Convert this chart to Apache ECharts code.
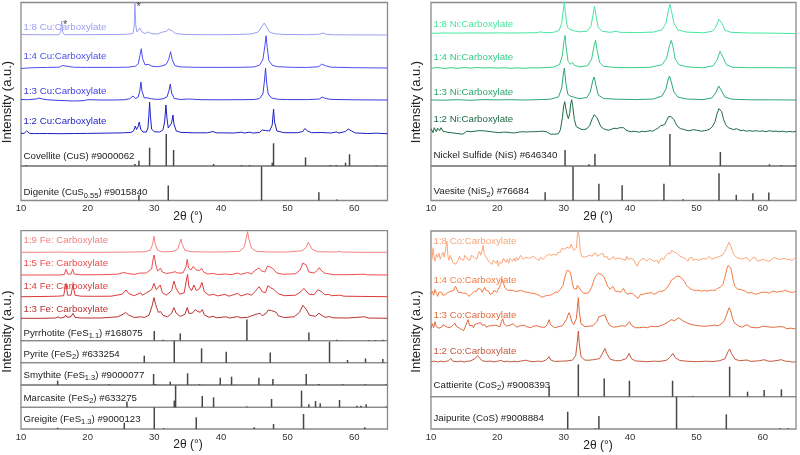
<!DOCTYPE html>
<html><head><meta charset="utf-8">
<script src="https://cdn.jsdelivr.net/npm/echarts@6/dist/echarts.min.js"></script>
<style>html,body{margin:0;padding:0;background:#fff}#c{width:800px;height:455px}</style>
</head><body><div id="c"></div>
<script>
// ---------- Axis ----------
const X_MIN = 10, X_MAX = 65, X_STEP = 10;
const xTitle = '2θ (°)';
const yTitle = 'Intensity (a.u.)';

// ---------- Cu panel (intensities above each pattern's baseline) ----------
const cuLabels = ['1:8 Cu:Carboxylate','1:4 Cu:Carboxylate','1:3 Cu:Carboxylate','1:2 Cu:Carboxylate'];
const cu18 = [[10,0.5],[12,0.3],[14,0.2],[15.7,0.3],[15.95,3],[16.1,14],[16.25,3],[16.5,0.3],[18,0.3],[21,0.4],[24,0.5],[26,0.8],[26.8,1.5],[26.98,8],[27.1,32.5],[27.22,10],[27.4,3],[27.65,5],[27.85,7],[28.1,3.5],[28.6,1.5],[29.15,3],[29.5,1.5],[30.5,1],[31.2,3],[31.5,5],[31.8,3.5],[32.15,6],[32.4,8],[32.7,4],[33.2,1.5],[34.5,0.5],[38,0.3],[42,0.4],[44.5,1],[45.6,3],[46.1,8],[46.5,12],[46.85,8],[47.3,3],[48,1.3],[49.5,0.5],[53,0.3],[54.8,0.8],[55.3,2],[55.8,0.7],[57,0.2],[65,0]];
const cu14 = [[10,-0.8],[11,-0.3],[12,0],[14,0.3],[15.8,0.5],[16.2,2.2],[16.5,0.8],[18,0.4],[20,0.3],[22,0.3],[24,0.3],[26,0.5],[27.2,1.5],[27.6,4],[27.85,12],[28.05,19],[28.25,9],[28.6,3],[28.9,2.5],[29.2,3.2],[29.6,1.5],[30.5,1],[31.3,2],[31.8,3.5],[32.15,8],[32.45,16],[32.7,8],[33.1,2],[34,0.8],[36,0.4],[40,0.3],[43,0.4],[45,0.8],[45.8,2.5],[46.3,8],[46.6,22],[46.78,32],[46.95,20],[47.2,7],[47.7,2.5],[48.5,1],[51,0.3],[53,0.3],[54.7,1],[55.1,3.5],[55.4,5],[55.7,2],[56.5,0.5],[60,0],[65,-0.3]];
const cu13 = [[10,0.5],[11,0.3],[12.3,1],[12.7,2],[13.2,1],[14,0.2],[16,-0.5],[18,-1],[19.5,-0.6],[20,0.3],[22,0],[24,0],[25.5,0.3],[26.3,1.2],[26.8,4],[27.2,1.5],[27.6,3],[27.85,10],[28.0,18],[28.15,9],[28.5,2],[28.9,2.2],[29.2,3.2],[29.6,1.2],[30.5,0.6],[31.3,1.2],[31.6,2],[31.9,3],[32.2,9],[32.4,16],[32.6,7],[33,1.5],[34,0.5],[35.1,1],[35.4,2],[35.7,0.8],[37,0.3],[40,0.2],[43,0.3],[45,0.5],[45.8,1.5],[46.3,6],[46.55,20],[46.7,32],[46.85,18],[47.1,6],[47.6,2],[48.5,0.8],[50,0.4],[53,0.4],[54.8,1],[55.2,3],[55.4,3.5],[55.7,1.5],[56.5,0.6],[60,0.2],[65,0]];
const cu12 = [[10,0.5],[10.5,0.8],[10.7,2],[10.85,3],[11.0,1.5],[11.3,0.6],[12,0.4],[14,0.5],[16,0.3],[18,0.5],[20,0.6],[22,0.8],[24,1.0],[25.5,1.2],[26.5,1.6],[26.9,3],[27.15,8],[27.35,4.5],[27.55,7],[27.75,12],[27.95,5],[28.3,2],[28.8,2],[29.05,6],[29.2,20],[29.3,32],[29.42,18],[29.6,5],[30,2.2],[30.8,2],[31.3,4],[31.55,12],[31.75,29],[31.9,16],[32.1,6],[32.35,5],[32.6,11],[32.8,19],[32.95,10],[33.3,3],[34,1.6],[36,1.2],[38,1.2],[38.8,2.5],[39.3,1.2],[42,1.0],[43.1,1.8],[43.5,1],[44.3,1.8],[44.8,1.0],[45.8,1.5],[46.2,4],[46.4,6],[46.7,3.5],[47.3,3],[47.7,9],[47.9,25],[48.05,12],[48.4,3],[49.5,1.3],[51.5,1.3],[52.3,2.5],[52.6,5.5],[52.75,6],[53.0,3],[53.6,1.3],[55,1.5],[56.5,1],[57.3,2],[57.7,1],[58.7,2.5],[59.1,5],[59.3,7],[59.6,3],[60.2,1],[62,0.5],[63.3,0.8],[65,0.3]];
const cuStarPeaks = [16.1, 27.1];
const covellite = [[10.8,1],[27.1,2],[27.7,5.3],[29.3,18.3],[31.8,32],[32.9,16],[38.9,2],[43.1,1],[44.3,1],[47.7,3.3],[47.9,22.7],[52.7,8.7],[56.4,1],[57.3,1],[58.7,3.3],[59.3,11.7],[63.3,0.8]];
const digenite = [[27.7,5.7],[32.1,15],[46.1,34],[54.7,8.3],[57.4,1]];

// ---------- Ni panel ----------
const niLabels = ['1:8 Ni:Carboxylate','1:4 Ni:Carboxylate','1:3 Ni:Carboxylate','1:2 Ni:Carboxylate'];
const ni18 = [[10,0],[12,0.3],[14,0.2],[16,0.4],[18,0.3],[20,0.4],[22,0.3],[24,0.4],[26,0.6],[26.5,1.5],[27,0.6],[28.5,1],[29.3,3],[29.7,10],[29.95,24],[30.1,31],[30.25,20],[30.55,6],[30.9,4],[31.2,5],[31.5,2.5],[32.3,1.5],[33.5,2],[34.1,7],[34.45,20],[34.65,27],[34.85,18],[35.2,6],[35.8,2],[37,1],[37.9,2],[38.5,1],[41,0.7],[43.5,1.2],[44.8,3.5],[45.4,10],[45.8,24],[46.0,29],[46.25,22],[46.6,10],[47.2,3.5],[48.5,1.2],[51,0.5],[52.4,2],[52.9,6],[53.4,14],[53.6,15],[53.85,10],[54.3,3],[55.2,1],[58,0.3],[61,0.2],[65,-0.3]];
const ni14 = [[10,0],[11,0.8],[12,-0.2],[13,0.6],[14,0],[15,0.7],[16,0.2],[17,0.8],[18,0.3],[19,0.6],[20,0.2],[21,0.5],[22,0],[23,0.4],[24,0],[25,0.5],[26,0.4],[27,0.6],[28.5,1.2],[29.4,4],[29.8,13],[30.05,28],[30.2,33],[30.35,22],[30.65,7],[31.0,4],[31.3,6],[31.6,3],[32.4,1.5],[33.6,2.5],[34.2,9],[34.55,22],[34.8,28],[35.0,19],[35.4,6],[36,2],[37.5,1],[40,0.6],[43,1],[44.8,3.5],[45.5,10],[45.95,23],[46.2,28],[46.45,22],[46.8,9],[47.4,3.5],[48.5,1.5],[51,0.5],[52.5,2.5],[53.1,8],[53.55,17],[53.75,18],[54.0,11],[54.5,3.5],[55.5,1],[58,0.6],[61,0.6],[65,0.5]];
const ni13 = [[10,0],[12,-0.2],[14,0.3],[16,-0.3],[18,0.4],[20,0.1],[22,0.3],[24,0],[26,0.3],[28,0.8],[29.2,3],[29.7,12],[29.95,27],[30.1,32],[30.3,18],[30.6,6],[30.95,4],[31.2,6],[31.45,3],[32.3,1.3],[33.5,2.5],[34.0,8],[34.4,20],[34.6,23],[34.85,15],[35.2,5],[36,1.5],[38,0.8],[41,0.4],[43.5,1],[44.8,4],[45.4,11],[45.75,21],[45.95,24],[46.2,18],[46.6,8],[47.2,3],[48.5,1],[51,0.4],[52.3,2],[52.9,7],[53.35,14],[53.55,15],[53.8,9],[54.3,3],[55.3,0.8],[58,0.2],[61,0.2],[65,0]];
const ni12 = [[10,3],[10.3,-1],[10.5,4],[10.8,0],[11.0,3.5],[11.3,1],[11.5,4],[11.8,0.5],[12.1,2.5],[12.4,-0.5],[12.7,1.5],[13.0,-1],[13.3,0.5],[13.6,-1.5],[13.9,0],[14.2,-2],[14.5,-0.5],[14.8,-2.5],[15.1,-0.5],[15.4,0.5],[15.7,1.5],[16.0,0],[16.3,2],[16.6,0.5],[16.9,2.5],[17.2,1],[17.5,3],[17.8,1],[18.1,2],[18.4,0.5],[18.7,1.5],[19.0,0],[19.3,1],[19.6,-0.5],[19.9,0.5],[20.2,-1],[20.5,0.5],[20.8,-0.5],[21.1,0.8],[21.4,-0.5],[21.7,0.5],[22.0,-1],[22.3,0],[22.6,-1.2],[22.9,0.3],[23.2,-0.5],[23.5,0.8],[23.8,0],[24.1,1],[24.4,-0.3],[24.7,0.8],[25.0,0],[25.3,1.2],[25.6,0],[25.9,1],[26.2,0.2],[26.5,1.5],[26.8,0.5],[27.1,2.5],[27.4,0],[27.7,-1.5],[28.0,-2.5],[28.3,-1],[28.6,-2.5],[28.9,-1],[29.2,-2],[29.5,2],[29.8,14],[30.0,26],[30.15,30],[30.3,24],[30.5,17],[30.7,13],[30.9,18],[31.05,28],[31.2,32],[31.35,26],[31.6,12],[31.9,5],[32.2,3],[32.6,2.5],[33.0,2],[33.5,3],[33.9,6],[34.3,13],[34.6,17],[34.8,15],[35.0,14],[35.2,12],[35.6,5],[36.0,3],[36.4,2],[36.8,1.5],[37.2,2.5],[37.6,3.5],[38.0,3],[38.4,4],[38.7,5.5],[39.0,4],[39.4,1.5],[39.8,0.5],[40.2,0],[40.6,0.5],[41.0,0],[41.4,-0.5],[41.8,0.5],[42.2,0],[42.6,0.5],[43.0,1],[43.4,0.5],[43.8,2],[44.2,3.5],[44.6,6],[44.9,8],[45.2,7],[45.5,11],[45.8,15],[46.0,17],[46.2,15],[46.4,16],[46.6,12],[46.9,8],[47.2,5],[47.6,3],[48.0,2.5],[48.4,1.5],[48.8,1],[49.2,1.5],[49.6,2],[50.0,1.5],[50.4,1],[50.8,0.5],[51.2,1],[51.6,1.5],[52.0,2.5],[52.4,5],[52.8,10],[53.1,18],[53.4,23],[53.6,24],[53.8,20],[54.1,12],[54.4,7],[54.8,4],[55.2,3],[55.6,2],[56.0,3],[56.3,2],[56.7,1],[57.1,1.5],[57.5,0.5],[58,1],[58.5,0.5],[59,1],[59.5,0.3],[60,0.8],[60.5,0],[61,1],[61.5,0.3],[62,0.6],[62.5,0],[63,0.5],[63.5,-0.3],[64,0.3],[64.5,-0.2],[65,0.2]];
const nickelSulfide = [[30.2,16],[33.8,1.7],[34.7,12],[46.0,32],[53.6,14],[61.0,1.7],[62.8,1],[64.8,0.7]];
const vaesite = [[27.2,8.3],[31.4,34],[35.3,16.7],[38.8,15.3],[45.1,16.7],[48.0,1.3],[53.4,27.3],[56.0,5.7],[58.5,7.3],[60.9,8]];

// ---------- Fe panel ----------
const feLabels = ['1:9 Fe: Carboxylate','1:5 Fe: Carboxylate','1:4 Fe: Carboxylate','1:3 Fe: Carboxylate'];
const fe19 = [[10,0],[13,0],[15.2,0.2],[15.5,1.5],[15.8,0.2],[18,0],[22,0],[26,0.2],[28.5,0.5],[29.4,2],[29.75,8],[29.95,16],[30.15,8],[30.5,2],[31.1,0.6],[31.3,1.2],[31.6,0.5],[32.8,0.8],[33.5,3],[33.8,9],[34.0,13.3],[34.2,8],[34.6,2],[35.5,0.6],[38,0.3],[41,0.4],[42.8,1],[43.5,5],[43.8,14],[44.0,20.7],[44.2,13],[44.6,4],[45.3,1],[47,0.3],[50,0.3],[52.2,1.5],[52.8,5],[53.1,10],[53.3,9],[53.7,3],[54.5,0.6],[57.3,0.3],[57.7,1],[58.1,0.3],[61,0],[65,0]];
const fe15 = [[10,0],[13,0],[15.2,0],[15.5,1.2],[15.8,0],[16.5,0.5],[16.75,5.7],[17.0,1],[17.5,0.8],[17.75,5.7],[18.0,0.8],[19,0.2],[22,0.3],[24.5,0.8],[25.4,2.5],[25.7,3.3],[26.0,1.5],[27,0.6],[27.9,2],[28.2,0.8],[28.8,2],[29.1,1],[29.6,6],[29.85,17],[30.0,20],[30.2,11],[30.5,4],[30.75,5],[30.95,6.7],[31.2,3],[31.8,1.5],[32.7,2.5],[33.1,3.3],[33.5,2],[34.3,2],[34.75,8],[34.95,15.7],[35.15,7],[35.5,5],[35.85,8.5],[36.0,9.3],[36.3,5],[36.8,4.5],[37.1,6.7],[37.4,3],[38,1],[38.9,1.5],[39.5,0.5],[40.7,1],[41.5,0.3],[42.5,2],[43.0,0.6],[44.0,2.5],[44.6,1],[45.0,4],[45.3,2.5],[45.7,7],[45.85,8.3],[46.1,4],[46.6,3],[47.0,9],[47.15,10.7],[47.35,8],[47.55,8],[47.8,6.5],[48.0,6],[48.4,2],[49.3,0.7],[51.2,1.2],[51.9,5],[52.3,12],[52.5,14],[52.8,10],[53.2,3],[54.0,2],[54.5,5],[54.75,7.3],[55.0,5],[55.5,2],[56.3,1],[57,0.3],[59,0.3],[61.5,0.8],[62,0.2],[65,0]];
const fe14 = [[10,0],[13,0.2],[15.5,0.5],[16.4,1],[16.75,13.3],[17.0,1.5],[17.5,1.5],[17.8,12.3],[18.1,1.5],[19,0.5],[21,0.4],[23.5,0.5],[25.2,2.5],[25.75,6.7],[26.2,3],[27,1],[27.95,4],[28.2,1.5],[28.85,4],[29.1,2],[29.6,7],[29.95,13.3],[30.3,7],[30.6,6],[30.9,11.7],[31.2,4],[31.8,1.5],[32.6,6],[32.95,15.7],[33.3,8],[33.8,2.5],[34.5,4],[34.9,20],[35.0,22.3],[35.2,10],[35.6,6],[35.95,11.7],[36.3,6],[36.8,8],[37.15,14.3],[37.5,5],[38.2,1.5],[38.9,2.3],[39.5,0.8],[40.6,2.3],[41.2,0.5],[42.5,3.3],[43.0,0.8],[44.0,3],[44.6,1.5],[45.1,5],[45.4,3],[45.75,10],[45.9,11.7],[46.2,5],[46.7,4],[47.05,11],[47.2,12.3],[47.45,9],[47.7,10],[48.0,7],[48.3,8.3],[48.6,3],[49.5,1],[51.2,1.5],[52.0,5],[52.45,8.3],[52.7,7],[53.2,2.5],[54.0,2],[54.55,7],[54.8,9],[55.1,5],[55.6,2],[56.2,2.3],[56.6,1],[57.8,1.5],[58.5,0.5],[61,0.3],[65,0]];
const fe13 = [[10,0],[13,0],[15.2,0.3],[15.55,1.5],[15.9,0.3],[16.5,1],[16.7,3.3],[16.9,1],[17.5,1.5],[17.8,5],[18.1,1],[19,0.3],[22,0.3],[24.5,1.5],[25.3,4],[25.7,6],[26.1,3.5],[27,0.8],[28.1,1.5],[28.5,0.8],[29.2,3],[29.7,13],[29.95,20.7],[30.2,14],[30.6,6],[30.95,6.7],[31.3,3],[32.0,1.5],[32.6,5],[32.95,10.7],[33.3,5],[33.9,2],[34.6,4],[34.95,10.7],[35.2,5],[35.7,5],[36.15,8.7],[36.5,7],[36.65,7.3],[36.9,6],[37.2,8.7],[37.5,3.5],[38.2,1],[38.8,2],[39.4,0.5],[40.7,1.5],[41.3,0.3],[42.5,1.7],[43.0,0.5],[44,1],[45.25,4],[45.5,2.5],[45.9,5],[46.2,2.5],[46.8,5],[47.1,8.3],[47.35,7],[47.6,7.7],[47.9,6],[48.3,6],[48.6,2.5],[49.5,0.8],[51,1.5],[51.8,6],[52.3,13],[52.5,14],[52.8,9],[53.3,3],[54.2,2],[54.7,5],[55.0,3],[55.6,1],[56.3,1.7],[56.8,0.5],[59,0.3],[61.6,1.5],[62.1,0.3],[65,0]];
const pyrrhotite = [[30.0,9.7],[31.3,1],[33.9,7.3],[43.9,21.3],[53.2,8.3],[57.4,1],[62.2,0.7],[63.2,0.7],[64.3,1]];
const pyrite = [[28.5,7],[33.0,22],[37.1,14.3],[40.8,11],[47.4,10.3],[56.3,21],[59.0,2.7],[61.7,4.3],[64.3,3.7]];
const smythite = [[15.5,4.3],[23.2,0.8],[29.9,11],[30.2,1],[32.4,3.3],[35.0,11.7],[36.8,0.8],[39.9,7.3],[41.6,8.3],[45.7,7.3],[47.8,6],[52.8,11],[54.7,1],[58.3,0.7],[61.7,0.7],[64.8,0.7]];
const marcasite = [[25.9,5.7],[33.0,6.7],[33.2,21.7],[37.2,11.3],[38.9,10],[43.9,0.8],[47.6,8.3],[52.1,16.7],[53.2,3],[54.2,6.3],[54.9,4],[57.8,7.3],[60.4,1.5],[61.0,1.5],[61.8,3],[64.8,0.8]];
const greigite = [[15.5,1.3],[25.5,6.3],[30.0,21.7],[31.4,0.8],[36.3,11.7],[45.0,1.7],[47.9,5],[52.4,15],[61.6,1.7]];

// ---------- Co panel ----------
const coLabels = ['1:8 Co:Carboxylate','1:4 Co:Carboxylate','1:3 Co:Carboxylate','1:2 Co:Carboxylate'];
const co18 = [[10.0,7],[10.15,-1],[10.3,10],[10.45,2],[10.6,-3],[10.8,4],[11.0,1],[11.2,5],[11.4,-1],[11.6,3],[11.8,6],[12.0,1],[12.2,3],[12.4,17],[12.55,2],[12.7,-2],[12.9,3],[13.1,2],[13.3,-4],[13.5,-2],[13.7,-6],[13.9,-8],[14.1,-2],[14.3,2],[14.5,-1],[14.7,1],[14.9,-2],[15.1,3],[15.3,4],[15.5,-1],[15.7,1],[15.9,-2],[16.1,3],[16.3,5],[16.5,1],[16.7,2],[16.9,-1],[17.1,4],[17.3,7],[17.5,3],[17.7,8],[17.85,13],[18.0,5],[18.2,5],[18.4,0],[18.6,-1],[18.8,-4],[19.0,-3],[19.2,-6],[19.4,-2],[19.6,-3],[19.8,-5],[20.0,-2],[20.15,-8],[20.3,-4],[20.5,-2],[20.7,-5],[20.9,0],[21.1,-1],[21.3,-4],[21.5,-1],[21.7,-5],[21.9,0],[22.1,1],[22.3,-3],[22.5,0],[22.7,-3],[22.9,1],[23.1,-2],[23.3,0],[23.5,3],[23.7,2],[23.9,-1],[24.1,-3],[24.3,1],[24.5,-1],[24.7,0],[24.9,-2],[25.1,1],[25.3,-1],[25.5,2],[25.7,2],[25.9,-1],[26.1,1],[26.3,-2],[26.5,1],[26.7,1],[26.9,-1],[27.1,0],[27.3,2],[27.5,1],[27.7,4],[27.9,2],[28.1,3],[28.3,1],[28.5,4],[28.7,5],[28.9,3],[29.1,6],[29.3,7],[29.5,6],[29.7,10],[29.9,8],[30.1,9],[30.3,8],[30.5,11],[30.7,12],[30.9,10],[31.1,14],[31.3,12],[31.5,8],[31.7,9],[31.9,10],[32.05,22],[32.2,27],[32.35,20],[32.5,7],[32.7,2],[32.9,0],[33.1,1],[33.3,-1],[33.5,2],[33.7,4],[33.9,3],[34.1,2],[34.3,2],[34.5,5],[34.7,3],[34.9,5],[35.1,2],[35.3,3],[35.5,4],[35.7,2],[35.9,5],[36.1,1],[36.3,0],[36.5,2],[36.7,-1],[36.9,-3],[37.1,-1],[37.3,1],[37.5,2],[37.7,-1],[37.9,-3],[38.1,0],[38.3,-2],[38.5,0],[38.7,-2],[38.9,-1],[39.1,1],[39.3,-2],[39.5,2],[39.7,-1],[39.9,-3],[40.1,0],[40.3,-2],[40.5,-1],[40.7,-4],[40.9,-6],[41.1,-8],[41.3,-4],[41.5,-3],[41.7,-1],[41.9,-3],[42.1,0],[42.3,-2],[42.5,-3],[42.7,-1],[42.9,0],[43.1,1],[43.3,-2],[43.5,-1],[43.7,-3],[43.9,-4],[44.1,-2],[44.3,-5],[44.5,-3],[44.7,0],[44.9,1],[45.1,-1],[45.3,2],[45.5,4],[45.7,5],[45.9,6],[46.1,5],[46.3,8],[46.5,9],[46.7,6],[46.9,7],[47.1,5],[47.3,3],[47.5,2],[47.7,0],[47.9,1],[48.1,-1],[48.3,0],[48.5,-2],[48.7,-3],[48.9,0],[49.1,-1],[49.3,1],[49.5,-2],[49.7,0],[49.9,-1],[50.1,-3],[50.3,-2],[50.5,0],[50.7,-1],[50.9,1],[51.1,0],[51.3,2],[51.5,-1],[51.7,1],[51.9,2],[52.1,0],[52.3,-1],[52.5,-2],[52.7,0],[52.9,2],[53.1,1],[53.3,3],[53.5,2],[53.7,4],[53.9,3],[54.1,5],[54.3,7],[54.5,10],[54.7,13],[54.9,16],[55.05,17],[55.2,12],[55.4,8],[55.6,4],[55.8,2],[56.0,1],[56.2,-1],[56.4,0],[56.6,-2],[56.8,-1],[57.0,1],[57.2,0],[57.4,-2],[57.6,1],[57.8,-1],[58.0,-3],[58.2,-1],[58.4,0],[58.6,-2],[58.8,1],[59.0,-1],[59.2,-3],[59.4,-1],[59.6,-2],[59.8,0],[60.0,-1],[60.2,1],[60.4,-2],[60.6,-1],[60.8,-3],[61.0,-5],[61.2,-2],[61.4,-1],[61.6,1],[61.8,-1],[62.0,0],[62.2,-2],[62.4,-1],[62.6,-3],[62.8,-1],[63.0,1],[63.2,0],[63.4,2],[63.6,-1],[63.8,1],[64.0,-1],[64.2,0],[64.4,-2],[64.6,-1],[64.8,0],[65.0,-1]];
const co14 = [[10.0,-1],[10.2,2],[10.4,-2],[10.6,4],[10.8,0],[11.0,-3],[11.2,1],[11.4,-1],[11.6,1],[11.8,-2],[12.0,0],[12.2,-1],[12.4,-1],[12.6,1],[12.8,-1],[13.0,2],[13.2,1],[13.4,3],[13.7,7],[13.9,5],[14.1,1],[14.3,0],[14.5,1],[14.7,-1],[14.9,0],[15.1,-1],[15.3,0],[15.5,-2],[15.7,-3],[15.9,-5],[16.1,-1],[16.3,0],[16.5,2],[16.7,4],[16.9,2],[17.1,5],[17.3,3],[17.5,4],[17.7,1],[17.9,3],[18.1,6],[18.3,3],[18.5,1],[18.7,2],[18.9,-1],[19.1,1],[19.3,0],[19.5,3],[19.7,4],[19.9,1],[20.1,3],[20.3,6],[20.5,9],[20.7,14],[20.9,11],[21.1,6],[21.3,7],[21.5,3],[21.7,1],[21.9,3],[22.1,5],[22.3,3],[22.5,1],[22.7,2],[22.9,0],[23.1,2],[23.3,1],[23.5,3],[23.7,5],[23.9,2],[24.1,3],[24.3,1],[24.5,0],[24.7,1],[24.9,-1],[25.1,0],[25.3,-1.5],[25.5,0],[25.7,1],[25.9,-1],[26.1,0],[26.3,-2],[26.5,-3],[26.7,-4],[26.9,-2],[27.1,-3],[27.3,-1],[27.5,-2],[27.7,0],[27.9,-2],[28.1,-3],[28.3,-1],[28.5,0],[28.7,1],[28.9,2],[29.1,1],[29.3,3],[29.5,4],[29.7,4],[29.9,8],[30.1,14],[30.3,19],[30.5,23],[30.7,24],[30.9,22],[31.1,18],[31.3,10],[31.5,5],[31.7,3],[31.9,4],[32.05,8],[32.2,10],[32.35,6],[32.6,3],[32.8,2],[33.0,0],[33.2,1],[33.4,0],[33.6,2],[33.8,1],[34.0,3],[34.2,6],[34.4,10],[34.6,14],[34.8,17],[35.0,19],[35.2,20],[35.4,21],[35.6,19],[35.8,20],[36.0,17],[36.2,14],[36.4,11],[36.6,7],[36.8,5],[37.0,4],[37.2,5],[37.4,7],[37.6,5],[37.8,2],[38.0,1],[38.2,2],[38.4,0],[38.6,1],[38.8,3],[39.0,5],[39.2,2],[39.4,0],[39.6,-1],[39.8,-2],[40.0,0],[40.2,1],[40.4,0],[40.6,-2],[40.8,-3],[41.0,-4],[41.2,-5],[41.4,-3],[41.6,-1],[41.8,-2],[42.0,-1],[42.2,-2],[42.4,0],[42.6,-1],[42.8,0],[43.0,-1],[43.2,1],[43.4,0],[43.6,-1],[43.8,1],[44.0,0],[44.2,1],[44.4,2],[44.6,1],[44.8,2],[45.0,2],[45.2,3],[45.4,4],[45.6,6],[45.8,7],[46.0,10],[46.2,13],[46.4,14],[46.6,15],[46.8,15],[47.0,17],[47.2,18],[47.4,17],[47.6,16],[47.8,15],[48.0,14],[48.2,12],[48.4,9],[48.6,7],[48.8,6],[49.0,5],[49.2,4],[49.4,5],[49.6,3],[49.8,4],[50.0,3],[50.2,2],[50.4,3],[50.6,1],[50.8,2],[51.0,2],[51.2,3],[51.4,1],[51.6,2],[51.8,2],[52.0,3],[52.2,2],[52.4,3],[52.6,4],[52.8,3],[53.0,4],[53.2,5],[53.4,4],[53.6,6],[53.8,7],[54.0,9],[54.2,14],[54.4,19],[54.6,25],[54.8,28],[55.0,29],[55.2,25],[55.4,18],[55.6,11],[55.8,7],[56.0,5],[56.2,4],[56.4,3],[56.6,4],[56.8,2],[57.0,3],[57.2,1],[57.4,2],[57.6,2],[57.8,0],[58.0,1],[58.2,1],[58.4,2],[58.6,0],[58.8,1],[59.0,-1],[59.2,1],[59.4,0],[59.6,-1],[59.8,1],[60.0,0],[60.2,1],[60.4,0],[60.6,1],[60.8,2],[61.0,0],[61.2,1],[61.4,2],[61.6,1],[61.8,2],[62.0,0],[62.2,1],[62.4,0],[62.6,2],[62.8,1],[63.0,2],[63.2,1],[63.4,3],[63.6,1],[63.8,2],[64.0,0],[64.2,1],[64.4,2],[64.6,1],[64.8,1],[65.0,2]];
const co13 = [[10,-2],[10.2,3],[10.4,-1],[10.6,5],[10.8,0],[11.0,2],[11.2,-1.5],[11.4,0],[11.6,-0.5],[11.8,2],[12.1,3.5],[12.3,0],[12.5,1.5],[12.7,-1],[12.9,-3],[13.1,0],[13.3,2],[13.6,3.5],[13.8,0.5],[14.1,1],[14.3,-1.5],[14.6,0],[14.9,-4],[15.1,-1],[15.3,1],[15.6,7],[15.8,1],[16.0,-1],[16.2,1.5],[16.4,-1],[16.6,2],[16.8,0.5],[17.1,3.5],[17.3,2],[17.5,4],[17.7,1.5],[17.9,0],[18.1,2],[18.3,-0.5],[18.6,-1.5],[18.8,1],[19.0,-0.5],[19.2,1],[19.4,0],[19.6,1.5],[19.8,-0.5],[20.0,1],[20.2,2],[20.4,0],[20.6,5],[20.8,8],[21.0,3],[21.2,4],[21.4,0.5],[21.7,-0.5],[21.9,1.5],[22.1,0],[22.4,3],[22.6,1],[22.9,-0.5],[23.2,-1],[23.5,1],[23.8,0],[24.0,1.5],[24.2,2],[24.4,0],[24.7,1],[25.0,-1],[25.2,-1.5],[25.5,0.5],[25.8,-0.5],[26.0,1],[26.3,0],[26.6,-0.5],[26.9,0.5],[27.2,-0.5],[27.5,2],[27.8,7],[28.0,2],[28.3,0],[28.6,-1],[28.9,1],[29.2,0],[29.5,1.5],[29.8,1],[30.1,3],[30.4,7],[30.6,11],[30.8,14],[31.0,11],[31.2,5],[31.5,2],[31.7,3],[31.9,8],[32.05,18],[32.2,29],[32.35,15],[32.6,3],[32.9,1],[33.2,0],[33.5,-1],[33.8,0.5],[34.1,0],[34.4,1],[34.7,3],[35.0,5],[35.3,10],[35.5,9],[35.8,11],[36.0,10],[36.2,12],[36.4,11],[36.6,5],[36.9,1.5],[37.2,0.5],[37.5,-0.5],[37.8,1],[38.1,0],[38.4,-0.5],[38.7,1],[39.0,2],[39.3,0.5],[39.6,2],[39.9,5],[40.2,1.5],[40.5,0],[40.8,-1],[41.1,0],[41.4,-1],[41.7,0.5],[42.0,-0.5],[42.3,0],[42.6,-1],[42.9,0],[43.2,0.5],[43.5,1],[43.8,0],[44.1,1],[44.4,0.5],[44.7,1.5],[45.0,2],[45.3,2],[45.6,4],[45.9,5],[46.2,7],[46.4,8],[46.7,6],[47.0,7],[47.3,9],[47.6,8],[47.9,6],[48.2,5],[48.5,4],[48.8,2],[49.1,2.5],[49.4,1],[49.7,1.5],[50.0,0],[50.3,1],[50.6,0],[50.9,0.5],[51.2,-0.5],[51.5,0.5],[51.8,0],[52.1,1],[52.4,0.5],[52.7,1.5],[53.0,2],[53.3,1],[53.6,2],[53.9,3.5],[54.2,6],[54.5,11],[54.75,16],[54.95,19],[55.15,16],[55.4,9],[55.7,4],[56.0,2],[56.3,1],[56.6,0],[56.9,-0.5],[57.2,1],[57.6,2],[57.9,0],[58.2,-0.5],[58.5,0],[58.8,-1],[59.1,0],[59.4,-1],[59.7,0],[60.0,0.5],[60.3,-0.5],[60.6,0],[60.9,-1],[61.2,-0.5],[61.5,-1.5],[61.8,-0.5],[62.1,-1],[62.4,0],[62.7,1],[63.0,0],[63.3,-1],[63.6,-2],[63.9,-1],[64.2,-1.5],[64.5,-3],[64.8,-2],[65,-2.5]];
const co12 = [[10,0],[10.5,0.5],[11,-0.3],[11.5,0.5],[12,0],[12.6,0.8],[13.0,3.3],[13.3,0.5],[14,0],[14.5,0.5],[15,-0.3],[15.5,0.5],[16,0.8],[16.6,3],[17.0,6],[17.3,4],[17.7,1],[18.3,0.3],[19,0.6],[19.5,-0.2],[20,0.5],[20.6,1.2],[21,0],[21.5,0.5],[22,-0.2],[22.5,0.5],[23,0],[23.5,0.6],[24.3,1.5],[24.8,0.5],[25.5,0],[26,0.5],[26.8,0.3],[27.4,2],[27.8,5],[28.1,1.5],[28.6,0.3],[29.5,0.5],[30.5,0.8],[31.3,1.5],[31.8,6],[32.05,20],[32.2,30.7],[32.35,18],[32.6,5],[33.2,1.5],[33.8,1.5],[34.5,2],[34.9,2.5],[35.4,3],[35.9,9],[36.2,13.3],[36.5,8],[37,2.5],[37.8,1],[38.5,1],[39.4,3],[39.85,8.3],[40.2,3],[40.8,0.8],[41.5,0.5],[42.5,0],[43.5,0.5],[44.5,0.3],[45.5,1.5],[46.1,5],[46.45,8.3],[46.8,4],[47.5,1.2],[48.5,0.5],[50,0],[51.5,0.5],[52.5,0.2],[53.5,1],[54.3,3],[54.75,10],[55.0,12.7],[55.3,8],[55.8,2.5],[56.5,1],[57.6,1.7],[58.2,0.3],[59.5,1],[60.2,2],[60.8,0.5],[61.5,0.5],[62.8,2],[63.4,0.5],[64,0.3],[64.5,-0.5],[65,0]];
const cattierite = [[27.8,10],[32.2,32.3],[36.1,18.3],[39.9,16],[46.4,16],[49.4,0.8],[55.0,30],[57.7,5],[60.2,6.7],[62.8,7.3]];
const jaipurite = [[30.6,17.3],[34.8,0.8],[35.3,13],[47.0,32.3],[54.5,14.7],[62.6,0.8],[63.8,0.8]];

// ---------- Layout (pixels) ----------
const FONT = 'Liberation Sans, Arial, sans-serif';
const grids = [
  {left:21, top:2.5, width:366.5, height:163.5},   // 0 Cu main
  {left:21, top:166, width:366.5, height:34.5},    // 1 Digenite
  {left:431, top:2.5, width:365, height:163.5},    // 2 Ni main
  {left:431, top:166, width:365, height:34.5},     // 3 Vaesite
  {left:21, top:230.7, width:366.5, height:110},   // 4 Fe main
  {left:21, top:340.7, width:366.5, height:22},    // 5 Pyrite
  {left:21, top:362.7, width:366.5, height:22.3},  // 6 Smythite
  {left:21, top:385, width:366.5, height:22.3},    // 7 Marcasite
  {left:21, top:407.3, width:366.5, height:21.7},  // 8 Greigite
  {left:431, top:231, width:365, height:165.7},    // 9 Co main
  {left:431, top:396.7, width:365, height:32.3}    // 10 Jaipurite
];
const labelledAxes = [1, 3, 8, 10];

const patterns = [
  {d:cu18, g:0, off:131,   c:'#9d9ef3', lab:cuLabels[0], ly:27},
  {d:cu14, g:0, off:98.3,  c:'#4e4ff0', lab:cuLabels[1], ly:56},
  {d:cu13, g:0, off:66,    c:'#3c3de3', lab:cuLabels[2], ly:91},
  {d:cu12, g:0, off:32,    c:'#1e1fc4', lab:cuLabels[3], ly:121},
  {d:ni18, g:2, off:132.7, c:'#47e6a0', lab:niLabels[0], ly:24},
  {d:ni14, g:2, off:97.7,  c:'#35cc88', lab:niLabels[1], ly:57.3},
  {d:ni13, g:2, off:66,    c:'#2ba672', lab:niLabels[2], ly:92.3},
  {d:ni12, g:2, off:34.3,  c:'#1d6a45', lab:niLabels[3], ly:119.3},
  {d:fe19, g:4, off:88.4,  c:'#f58080', lab:feLabels[0], ly:240.7},
  {d:fe15, g:4, off:65.7,  c:'#ee4d4d', lab:feLabels[1], ly:263.3},
  {d:fe14, g:4, off:44,    c:'#dc3b3b', lab:feLabels[2], ly:286.7},
  {d:fe13, g:4, off:22.4,  c:'#b93232', lab:feLabels[3], ly:309},
  {d:co18, g:9, off:138.4, c:'#fba677', lab:coLabels[0], ly:241.7},
  {d:co14, g:9, off:103.4, c:'#f57b40', lab:coLabels[1], ly:280},
  {d:co13, g:9, off:70,    c:'#e2693c', lab:coLabels[2], ly:315},
  {d:co12, g:9, off:35,    c:'#c45a3d', lab:coLabels[3], ly:351}
];
const refs = [
  {d:covellite, g:0, t:'Covellite (CuS) #9000062', ly:156.7},
  {d:digenite, g:1, t:'Digenite (CuS{s|0.55}) #9015840', ly:192.7},
  {d:nickelSulfide, g:2, t:'Nickel Sulfide (NiS) #646340', ly:155.7},
  {d:vaesite, g:3, t:'Vaesite (NiS{s|2}) #76684', ly:191.7},
  {d:pyrrhotite, g:4, t:'Pyrrhotite (FeS{s|1.1}) #168075', ly:333.3},
  {d:pyrite, g:5, t:'Pyrite (FeS{s|2}) #633254', ly:354.3},
  {d:smythite, g:6, t:'Smythite (FeS{s|1.3}) #9000077', ly:375},
  {d:marcasite, g:7, t:'Marcasite (FeS{s|2}) #633275', ly:398.3},
  {d:greigite, g:8, t:'Greigite (FeS{s|1.3}) #9000123', ly:419},
  {d:cattierite, g:9, t:'Cattierite (CoS{s|2}) #9008393', ly:385},
  {d:jaipurite, g:10, t:'Jaipurite (CoS) #9008884', ly:418.3}
];

const grid = grids.map(g => Object.assign({show:true, borderColor:'#8a8a8a', borderWidth:1.3, backgroundColor:'transparent'}, g));
const xAxis = grids.map((g, i) => ({
  type:'value', gridIndex:i, min:X_MIN, max:X_MAX, interval:X_STEP,
  axisLine:{show:false}, axisTick:{show:false}, splitLine:{show:false},
  axisLabel:{show: labelledAxes.includes(i), fontSize:9.5, color:'#333', fontFamily:FONT, margin:3, showMaxLabel:false}
}));
const yAxis = grids.map((g, i) => ({type:'value', gridIndex:i, min:0, max:g.height, show:false}));

const series = [];
patterns.forEach(p => {
  series.push({type:'line', xAxisIndex:p.g, yAxisIndex:p.g, data:p.d.map(q => [q[0], q[1] + p.off]),
    showSymbol:false, symbol:'none', lineStyle:{width:1, color:p.c}, itemStyle:{color:p.c}, animation:false, silent:true, z:3});
});
refs.forEach(r => {
  series.push({type:'custom', xAxisIndex:r.g, yAxisIndex:r.g, data:r.d, animation:false, silent:true, z:2,
    renderItem:(params, api) => {
      const a = api.coord([api.value(0), 0]);
      const b = api.coord([api.value(0), api.value(1)]);
      return {type:'line', shape:{x1:a[0], y1:a[1], x2:b[0], y2:b[1]}, style:{stroke:'#474747', lineWidth:1.5}};
    }});
});
// asterisks beside the tops of the sharp peaks of the 1:8 Cu pattern
const starPts = cuStarPeaks.map(x0 => {
  let best = cu18[0];
  cu18.forEach(q => { if (Math.abs(q[0] - x0) < 0.3 && q[1] > best[1]) best = q; });
  return [best[0], best[1] + patterns[0].off];
});
series.push({type:'scatter', xAxisIndex:0, yAxisIndex:0, data:starPts, symbolSize:0.1, animation:false, silent:true, z:5, clip:false,
  label:{show:true, formatter:'*', position:[1.5, -1], color:'#111', fontSize:11, fontFamily:FONT}});

const graphic = [];
const addText = (x, y, text, color, size, extra) => graphic.push(Object.assign({type:'text', x, y, silent:true, z:10,
  style:{text, fill:color, fontSize:size, fontFamily:FONT, align:'left', verticalAlign:'middle',
    rich:{s:{fontSize:7.5, fontFamily:FONT, fill:'#222', padding:[6,0,0,0]}}}}, extra || {}));
patterns.forEach(p => addText(grids[p.g].left + 2.5, p.ly, p.lab, p.c, 9.7));
refs.forEach(r => addText(grids[r.g].left + 2.5, r.ly, r.t, '#222', 9.7));
// axis titles
[[188, 217], [598, 217], [188, 445], [598, 445.5]].forEach(([x, y]) =>
  graphic.push({type:'text', x, y, silent:true, style:{text:xTitle, fill:'#222', fontSize:12, fontFamily:FONT, align:'center', verticalAlign:'middle'}}));
[[7.5, 102], [416.5, 102], [7.5, 331.5], [416.5, 331.5]].forEach(([x, y]) =>
  graphic.push({type:'text', x, y, rotation:Math.PI/2, silent:true, style:{text:yTitle, fill:'#222', fontSize:13, fontFamily:FONT, align:'center', verticalAlign:'middle'}}));

const chart = echarts.init(document.getElementById('c'), null, {renderer:'canvas'});
chart.setOption({animation:false, backgroundColor:'#fff', grid, xAxis, yAxis, series, graphic});
</script></body></html>
